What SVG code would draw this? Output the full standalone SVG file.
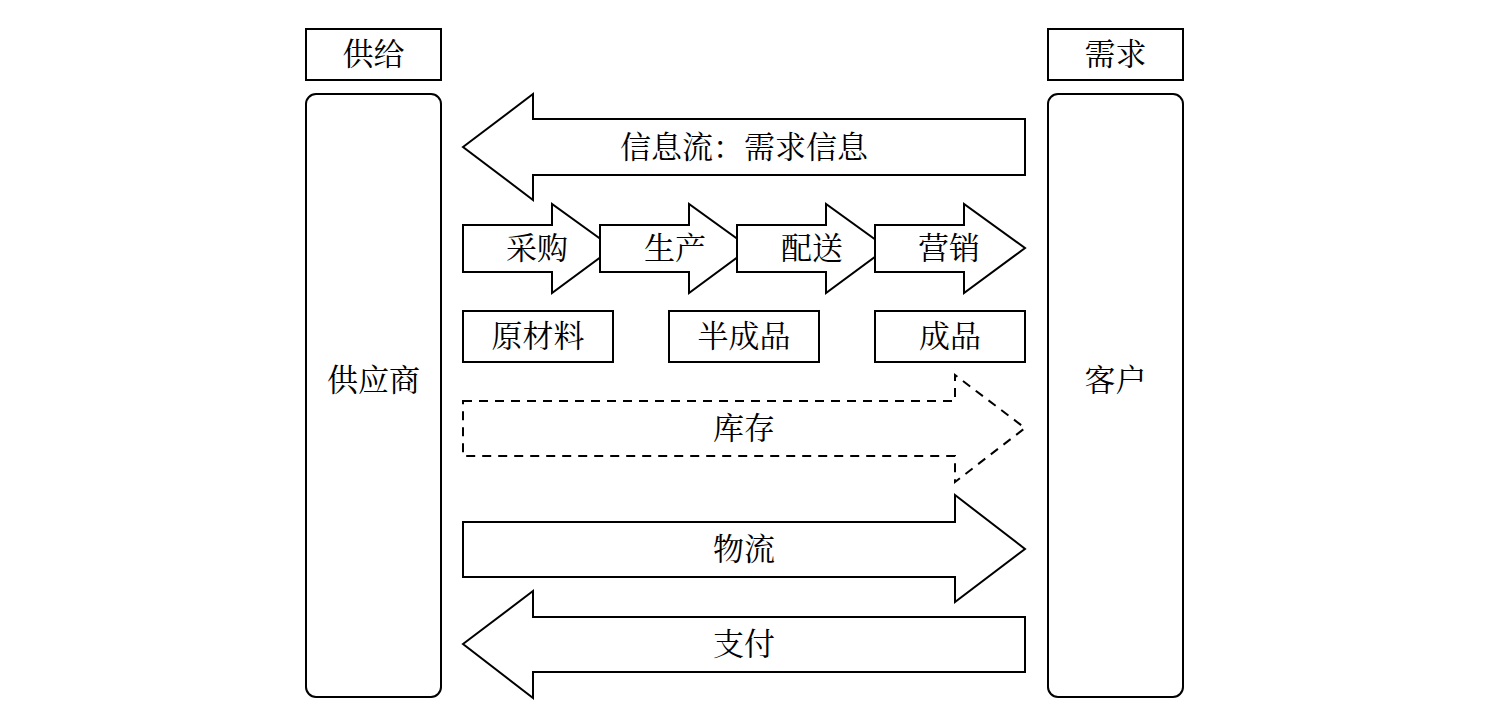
<svg xmlns="http://www.w3.org/2000/svg" width="1498" height="724" viewBox="0 0 1498 724">
<style>
.s{fill:#fff;stroke:#000;stroke-width:2;stroke-linejoin:miter}
.d{fill:#fff;stroke:#000;stroke-width:2;stroke-dasharray:9 7}
text{font-family:"Liberation Serif","Noto Serif CJK SC","Noto Sans CJK SC",serif;font-size:31px;fill:#000;text-anchor:middle;dominant-baseline:central}
</style>
<rect width="1498" height="724" fill="#fff"/>
<g id="supply-label"><rect class="s" x="306" y="29" width="135" height="51"/><text x="373.5" y="54">供给</text></g>
<g id="demand-label"><rect class="s" x="1048" y="29" width="135" height="51"/><text x="1115.5" y="54">需求</text></g>
<g id="supplier"><rect class="s" x="306" y="94" width="135" height="603" rx="10"/><text x="373.5" y="380">供应商</text></g>
<g id="customer"><rect class="s" x="1048" y="94" width="135" height="603" rx="10"/><text x="1115.5" y="380">客户</text></g>
<g id="connectors">
<g id="info-flow"><polygon class="s" points="463,147 533,94 533,119 1025,119 1025,175 533,175 533,200"/><text x="744" y="147">信息流：需求信息</text></g>
<g id="purchase"><polygon class="s" points="463,225 552,225 552,204 613,248 552,293 552,272 463,272"/><text x="537" y="248">采购</text></g>
<g id="production"><polygon class="s" points="600,225 689,225 689,204 750,248 689,293 689,272 600,272"/><text x="675" y="248">生产</text></g>
<g id="distribution"><polygon class="s" points="737,225 826,225 826,204 887,248 826,293 826,272 737,272"/><text x="812" y="248">配送</text></g>
<g id="marketing"><polygon class="s" points="875,225 964,225 964,204 1025,248 964,293 964,272 875,272"/><text x="949" y="248">营销</text></g>
<g id="inventory"><polygon class="d" points="463,401 955,401 955,375 1025,428 955,482 955,456 463,456"/><text x="744" y="428">库存</text></g>
<g id="logistics"><polygon class="s" points="463,522 955,522 955,495 1025,549 955,602 955,577 463,577"/><text x="744" y="549">物流</text></g>
<g id="payment"><polygon class="s" points="463,644 533,591 533,617 1025,617 1025,672 533,672 533,698"/><text x="744" y="644">支付</text></g>
</g>
<g id="raw-material"><rect class="s" x="463" y="311" width="150" height="51"/><text x="538" y="336">原材料</text></g>
<g id="semi-finished"><rect class="s" x="669" y="311" width="150" height="51"/><text x="744" y="336">半成品</text></g>
<g id="finished"><rect class="s" x="875" y="311" width="150" height="51"/><text x="950" y="336">成品</text></g>
</svg>
